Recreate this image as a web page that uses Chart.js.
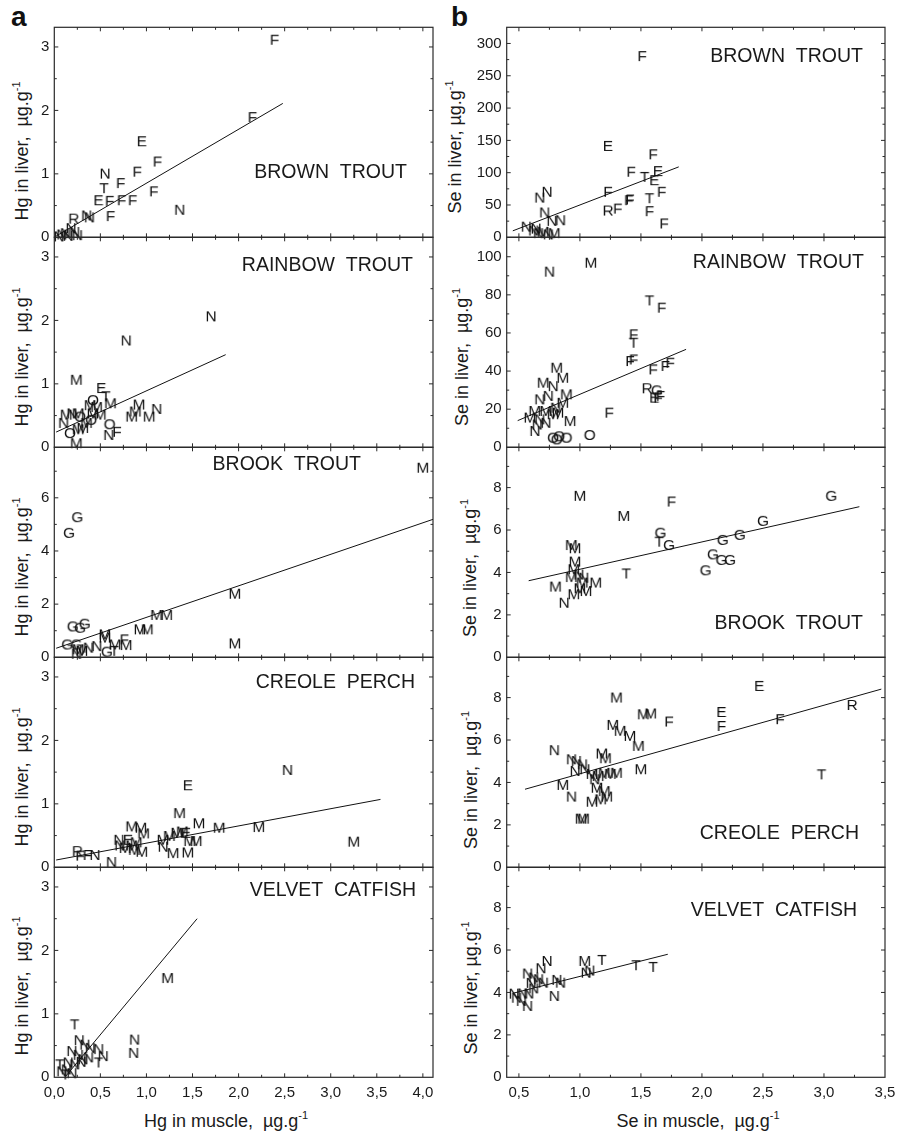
<!DOCTYPE html>
<html>
<head>
<meta charset="utf-8">
<script src="https://cdn.jsdelivr.net/npm/chart.js@4.4.1/dist/chart.umd.min.js"></script>
<style>
  html,body{margin:0;padding:0;background:#fff;}
  body{width:902px;height:1136px;position:relative;overflow:hidden;font-family:"Liberation Sans",Arial,Helvetica,sans-serif;color:#1a1a1a;}
  canvas{position:absolute;}
  .t{position:absolute;white-space:nowrap;line-height:1;}
  .yt{font-size:18px;transform:translate(-50%,-50%) rotate(-90deg);}
  .xt{font-size:18px;transform:translate(-50%,-50%);}
  .sup{font-size:11px;position:relative;top:-8px;}
  .pl{font-size:28px;font-weight:bold;color:#111;}
</style>
</head>
<body>
<div class="t pl" style="left:11px;top:3px;">a</div>
<div class="t pl" style="left:451px;top:3px;">b</div>

<div class="t yt" style="left:22px;top:151px;">Hg in liver,&nbsp; µg.g<span class="sup">-1</span></div>
<div class="t yt" style="left:22px;top:357px;">Hg in liver,&nbsp; µg.g<span class="sup">-1</span></div>
<div class="t yt" style="left:22px;top:567px;">Hg in liver,&nbsp; µg.g<span class="sup">-1</span></div>
<div class="t yt" style="left:22px;top:777px;">Hg in liver,&nbsp; µg.g<span class="sup">-1</span></div>
<div class="t yt" style="left:22px;top:986px;">Hg in liver,&nbsp; µg.g<span class="sup">-1</span></div>

<div class="t yt" style="left:455px;top:147px;">Se in liver, µg.g<span class="sup">-1</span></div>
<div class="t yt" style="left:462px;top:357px;">Se in liver,&nbsp; µg.g<span class="sup">-1</span></div>
<div class="t yt" style="left:470px;top:568px;">Se in liver,&nbsp; µg.g<span class="sup">-1</span></div>
<div class="t yt" style="left:471px;top:780px;">Se in liver,&nbsp; µg.g<span class="sup">-1</span></div>
<div class="t yt" style="left:471px;top:988px;">Se in liver, µg.g<span class="sup">-1</span></div>

<div class="t xt" style="left:226px;top:1121px;">Hg in muscle,&nbsp; µg.g<span class="sup">-1</span></div>
<div class="t xt" style="left:698px;top:1121px;">Se in muscle,&nbsp; µg.g<span class="sup">-1</span></div>

<canvas id="p1a"></canvas><canvas id="p1b"></canvas>
<canvas id="p2a"></canvas><canvas id="p2b"></canvas>
<canvas id="p3a"></canvas><canvas id="p3b"></canvas>
<canvas id="p4a"></canvas><canvas id="p4b"></canvas>
<canvas id="p5a"></canvas><canvas id="p5b"></canvas>

<script>
// ---------- tick values / labels ----------
const hgMuscleTicks = [0, 0.5, 1, 1.5, 2, 2.5, 3, 3.5, 4];
const hgMuscleLabels = ['0,0','0,5','1,0','1,5','2,0','2,5','3,0','3,5','4,0'];
const seMuscleTicks = [0.5, 1, 1.5, 2, 2.5, 3, 3.5];
const seMuscleLabels = ['0,5','1,0','1,5','2,0','2,5','3,0','3,5'];
const hgLiverTicks = [0, 1, 2, 3];
const hgLiverBrookTicks = [0, 2, 4, 6];
const seLiverBrownTicks = [0, 50, 100, 150, 200, 250, 300];
const seLiverRainbowTicks = [0, 20, 40, 60, 80, 100];
const seLiverTicks = [0, 2, 4, 6, 8];

// ---------- (a) Hg : BROWN TROUT ----------
const hgBrownLetters = ['F','F','E','F','F','N','F','T','F','E','F','F','F','N','F','N','N','R','N','N','N','N','N','N','N'];
const hgBrownMuscle  = [2.39,2.15,0.95,1.12,0.90,0.55,0.72,0.54,1.08,0.48,0.60,0.73,0.85,1.36,0.61,0.35,0.38,0.21,0.18,0.12,0.15,0.08,0.22,0.05,0.25];
const hgBrownLiver   = [3.13,1.91,1.53,1.21,1.05,1.02,0.87,0.79,0.74,0.60,0.59,0.60,0.60,0.45,0.35,0.36,0.33,0.31,0.16,0.08,0.04,0.06,0.10,0.03,0.05];
const hgBrownFitX = [0.02, 2.48];
const hgBrownFitY = [0.02, 2.11];

// ---------- (b) Se : BROWN TROUT ----------
const seBrownLetters = ['F','E','F','F','T','E','E','F','F','T','F','F','F','R','F','F','N','N','N','N','N','N','N','N','M','N','M','N'];
const seBrownMuscle  = [1.51,1.23,1.60,1.42,1.53,1.64,1.61,1.67,1.23,1.57,1.40,1.41,1.31,1.23,1.57,1.69,0.67,0.73,0.71,0.84,0.77,0.56,0.62,0.66,0.70,0.74,0.79,0.64];
const seBrownLiver   = [282,143,130,103,95,104,90,72,72,62,59,60,46,43,42,23,63,72,40,28,27,18,12,8,10,6,8,15];
const seBrownFitX = [0.45, 1.81];
const seBrownFitY = [10, 109];

// ---------- (a) Hg : RAINBOW TROUT ----------
const hgRainbowLetters = ['N','N','M','E','O','T','M','M','M','N','M','M','M','O','F','N','O','M','N','M','N','M','O','M','M','O','M','M','M','M'];
const hgRainbowMuscle  = [1.70,0.78,0.24,0.51,0.42,0.56,0.61,0.39,0.92,1.11,0.84,1.03,0.88,0.60,0.68,0.59,0.40,0.50,0.10,0.13,0.19,0.26,0.28,0.31,0.26,0.17,0.24,0.35,0.42,0.46];
const hgRainbowLiver   = [2.08,1.70,1.08,0.95,0.76,0.82,0.71,0.68,0.69,0.62,0.50,0.50,0.58,0.38,0.26,0.21,0.45,0.53,0.40,0.53,0.55,0.55,0.50,0.32,0.30,0.24,0.08,0.40,0.55,0.65];
const hgRainbowFitX = [0.02, 1.86];
const hgRainbowFitY = [0.24, 1.46];

// ---------- (b) Se : RAINBOW TROUT ----------
const seRainbowLetters = ['N','M','T','F','F','T','F','F','F','F','F','R','G','E','F','F','F','O','O','O','O','O','M','M','M','N','M','N','N','M','N','M','M','M','M','N','M','N','N','M','N'];
const seRainbowMuscle  = [0.75,1.09,1.57,1.67,1.44,1.44,1.41,1.44,1.60,1.70,1.74,1.55,1.63,1.61,1.64,1.66,1.24,1.08,0.78,0.81,0.89,0.83,0.81,0.86,0.70,0.78,0.89,0.67,0.74,0.86,0.80,0.63,0.72,0.82,0.59,0.67,0.92,0.72,0.63,0.78,0.65];
const seRainbowLiver   = [92.7,97.4,77.6,73.8,59.8,55.4,45.8,46.6,41.4,43.2,44.9,31.5,30.4,26.6,26.6,27.5,18.7,7.0,5.6,4.7,5.6,6.3,42.3,37,34.4,32.6,28.3,25.7,27.5,23.9,21.3,19.6,19.6,18.7,16.1,15.2,14.3,13.4,9.1,17.9,12.5];
const seRainbowFitX = [0.49, 1.87];
const seRainbowFitY = [14, 51.4];

// ---------- (a) Hg : BROOK TROUT ----------
const hgBrookLetters = ['M','G','G','M','M','M','M','M','G','G','G','M','F','M','M','M','M','G','G','M','M','N','N','G','T','N'];
const hgBrookMuscle  = [4.00,0.25,0.16,1.96,1.11,1.22,0.93,1.01,0.20,0.28,0.33,1.96,0.76,0.78,0.66,0.55,0.55,0.14,0.24,0.26,0.30,0.46,0.37,0.57,0.65,0.24];
const hgBrookLiver   = [7.17,5.31,4.72,2.43,1.63,1.63,1.09,1.09,1.20,1.15,1.30,0.56,0.71,0.50,0.52,0.90,0.78,0.52,0.52,0.34,0.28,0.46,0.40,0.25,0.28,0.17];
const hgBrookFitX = [0.02, 4.11];
const hgBrookFitY = [0.34, 5.19];

// ---------- (b) Se : BROOK TROUT ----------
const seBrookLetters = ['M','F','G','M','G','G','G','G','T','G','G','G','G','G','T','M','M','M','M','M','N','N','M','M','M','M','M','N','M'];
const seBrookMuscle  = [1.00,1.75,3.06,1.36,2.50,2.31,2.17,1.66,1.65,1.73,2.09,2.16,2.23,2.03,1.38,0.93,0.96,0.96,0.95,0.93,0.99,1.03,1.02,1.13,0.80,0.95,1.05,0.87,1.00];
const seBrookLiver   = [7.66,7.39,7.66,6.71,6.48,5.82,5.58,5.92,5.50,5.34,4.90,4.64,4.64,4.15,4.00,5.34,5.19,4.56,4.20,3.83,3.95,3.80,3.57,3.57,3.38,3.02,3.17,2.62,3.30];
const seBrookFitX = [0.58, 3.29];
const seBrookFitY = [3.61, 7.10];

// ---------- (a) Hg : CREOLE PERCH ----------
const hgCreoleLetters = ['N','E','M','M','M','M','M','M','M','M','N','E','M','M','M','M','M','N','M','M','M','M','E','M','M','M','M','N','N','R','F','F','N'];
const hgCreoleMuscle  = [2.53,1.45,1.36,1.57,1.79,2.22,3.25,0.84,0.94,0.97,0.70,0.80,0.89,0.77,0.84,0.95,0.87,0.71,1.18,1.25,1.33,1.39,1.43,1.47,1.54,1.29,1.45,1.18,0.62,0.25,0.28,0.36,0.44];
const hgCreoleLiver   = [1.55,1.31,0.87,0.71,0.64,0.65,0.42,0.66,0.64,0.55,0.45,0.45,0.41,0.32,0.36,0.26,0.29,0.36,0.45,0.51,0.56,0.58,0.56,0.43,0.43,0.24,0.25,0.34,0.10,0.27,0.20,0.21,0.21];
const hgCreoleFitX = [0.02, 3.54];
const hgCreoleFitY = [0.115, 1.07];

// ---------- (b) Se : CREOLE PERCH ----------
const seCreoleLetters = ['E','M','M','M','F','E','F','F','R','T','M','M','M','M','M','N','M','M','N','N','N','N','N','M','M','M','M','M','N','M','M','M','M','M','M','N','M','M'];
const seCreoleMuscle  = [2.47,1.30,1.52,1.58,1.73,2.16,2.16,2.64,3.23,2.98,1.27,1.33,1.41,1.48,1.50,0.79,1.18,1.21,0.93,0.97,1.02,0.96,1.04,1.10,1.15,1.20,1.25,1.30,1.12,1.14,1.20,1.22,1.10,1.17,0.86,0.93,1.01,1.03];
const seCreoleLiver   = [8.6,8.05,7.26,7.30,6.92,7.37,6.71,7.03,7.70,4.43,6.76,6.48,6.24,5.77,4.67,5.57,5.41,5.19,5.14,5.06,4.90,4.59,4.67,4.45,4.35,4.50,4.45,4.50,4.20,3.80,3.64,3.38,3.14,3.25,3.93,3.38,2.34,2.34];
const seCreoleFitX = [0.55, 3.47];
const seCreoleFitY = [3.68, 8.40];

// ---------- (a) Hg : VELVET CATFISH ----------
const hgVelvetLetters = ['M','T','N','N','N','N','N','N','N','T','N','N','N','N','N','N','T','N','N','N','T','N'];
const hgVelvetMuscle  = [1.23,0.22,0.87,0.86,0.27,0.33,0.39,0.48,0.53,0.48,0.19,0.26,0.31,0.37,0.15,0.22,0.06,0.08,0.13,0.19,0.12,0.29];
const hgVelvetLiver   = [1.58,0.85,0.61,0.40,0.60,0.53,0.48,0.46,0.35,0.25,0.43,0.37,0.30,0.33,0.25,0.22,0.22,0.11,0.14,0.08,0.06,0.26];
const hgVelvetFitX = [0.12, 1.55];
const hgVelvetFitY = [0.01, 2.50];

// ---------- (b) Se : VELVET CATFISH ----------
const seVelvetLetters = ['M','T','T','T','N','N','N','N','N','N','N','N','N','N','N','N','N','N','N','N','N','N','N'];
const seVelvetMuscle  = [1.04,1.18,1.46,1.60,1.05,1.08,0.73,0.68,0.57,0.62,0.66,0.70,0.81,0.84,0.79,0.46,0.48,0.52,0.57,0.58,0.62,0.53,0.60];
const seVelvetLiver   = [5.53,5.58,5.33,5.25,4.98,5.08,5.53,5.19,4.94,4.75,4.67,4.51,4.64,4.51,3.88,3.99,3.80,3.65,3.41,4.00,4.24,4.00,4.50];
const seVelvetFitX = [0.45, 1.72];
const seVelvetFitY = [3.96, 5.80];

// ---------- helpers ----------
const FONT = '"Liberation Sans", Arial, Helvetica, sans-serif';
const imgCache = {};
function letterImage(ch) {
  if (imgCache[ch]) return imgCache[ch];
  const c = document.createElement('canvas');
  c.width = 18; c.height = 18;
  const g = c.getContext('2d');
  g.font = '15.5px ' + FONT;
  g.fillStyle = '#111';
  g.textAlign = 'center';
  g.textBaseline = 'alphabetic';
  g.fillText(ch, 9, 9 + 5.6);
  imgCache[ch] = c;
  return c;
}
function midpoints(ticks, max) {
  const step = ticks[1] - ticks[0];
  const out = [];
  ticks.forEach(t => { const m = t + step / 2; if (m < max - step * 0.05) out.push(m); });
  return out;
}

const frame = {
  id: 'frame',
  afterDatasetsDraw(chart, args, o) {
    const { ctx, chartArea: a, scales } = chart;
    ctx.save();
    ctx.strokeStyle = '#2a2a2a';
    ctx.lineWidth = 1.2;
    ctx.strokeRect(a.left, a.top, a.right - a.left, a.bottom - a.top);
    ctx.lineWidth = 1;
    ctx.beginPath();
    const xs = scales.x, ys = scales.y;
    const tick = (v, len, horiz) => {
      if (horiz) {
        const p = xs.getPixelForValue(v);
        if (p < a.left + 0.5 || p > a.right - 0.5) return;
        ctx.moveTo(p, a.bottom); ctx.lineTo(p, a.bottom - len);
        ctx.moveTo(p, a.top); ctx.lineTo(p, a.top + len);
      } else {
        const p = ys.getPixelForValue(v);
        if (p < a.top + 0.5 || p > a.bottom - 0.5) return;
        ctx.moveTo(a.left, p); ctx.lineTo(a.left + len, p);
        ctx.moveTo(a.right, p); ctx.lineTo(a.right - len, p);
      }
    };
    o.xMajor.forEach(v => tick(v, 4, true));
    o.xMinor.forEach(v => tick(v, 2.5, true));
    o.yMajor.forEach(v => tick(v, 4, false));
    o.yMinor.forEach(v => tick(v, 2.5, false));
    ctx.stroke();
    // panel name
    ctx.font = '19.5px ' + FONT;
    ctx.fillStyle = '#1a1a1a';
    ctx.textAlign = 'right';
    ctx.textBaseline = 'middle';
    ctx.fillText(o.name, a.right - o.dx, a.top + o.dy);
    ctx.restore();
  }
};

const panels = [
  { id:'p1a', col:'L', top:17,  yMax:3.31, yTicks:hgLiverTicks,        L:hgBrownLetters,   X:hgBrownMuscle,   Y:hgBrownLiver,   FX:hgBrownFitX,   FY:hgBrownFitY,   name:'BROWN  TROUT',   dx:26, dy:145 },
  { id:'p1b', col:'R', top:17,  yMax:325,  yTicks:seLiverBrownTicks,   L:seBrownLetters,   X:seBrownMuscle,   Y:seBrownLiver,   FX:seBrownFitX,   FY:seBrownFitY,   name:'BROWN  TROUT',   dx:22, dy:29 },
  { id:'p2a', col:'L', top:227, yMax:3.31, yTicks:hgLiverTicks,        L:hgRainbowLetters, X:hgRainbowMuscle, Y:hgRainbowLiver, FX:hgRainbowFitX, FY:hgRainbowFitY, name:'RAINBOW  TROUT', dx:20, dy:28 },
  { id:'p2b', col:'R', top:227, yMax:110.2,yTicks:seLiverRainbowTicks, L:seRainbowLetters, X:seRainbowMuscle, Y:seRainbowLiver, FX:seRainbowFitX, FY:seRainbowFitY, name:'RAINBOW  TROUT', dx:21, dy:25 },
  { id:'p3a', col:'L', top:437, yMax:7.9,  yTicks:hgLiverBrookTicks,   L:hgBrookLetters,   X:hgBrookMuscle,   Y:hgBrookLiver,   FX:hgBrookFitX,   FY:hgBrookFitY,   name:'BROOK  TROUT',   dx:72, dy:17 },
  { id:'p3b', col:'R', top:437, yMax:9.9,  yTicks:seLiverTicks,        L:seBrookLetters,   X:seBrookMuscle,   Y:seBrookLiver,   FX:seBrookFitX,   FY:seBrookFitY,   name:'BROOK  TROUT',   dx:22, dy:176 },
  { id:'p4a', col:'L', top:647, yMax:3.31, yTicks:hgLiverTicks,        L:hgCreoleLetters,  X:hgCreoleMuscle,  Y:hgCreoleLiver,  FX:hgCreoleFitX,  FY:hgCreoleFitY,  name:'CREOLE  PERCH',  dx:18, dy:25 },
  { id:'p4b', col:'R', top:647, yMax:9.9,  yTicks:seLiverTicks,        L:seCreoleLetters,  X:seCreoleMuscle,  Y:seCreoleLiver,  FX:seCreoleFitX,  FY:seCreoleFitY,  name:'CREOLE  PERCH',  dx:26, dy:176 },
  { id:'p5a', col:'L', top:857, yMax:3.31, yTicks:hgLiverTicks,        L:hgVelvetLetters,  X:hgVelvetMuscle,  Y:hgVelvetLiver,  FX:hgVelvetFitX,  FY:hgVelvetFitY,  name:'VELVET  CATFISH',dx:17, dy:23, bottom:true },
  { id:'p5b', col:'R', top:857, yMax:9.9,  yTicks:seLiverTicks,        L:seVelvetLetters,  X:seVelvetMuscle,  Y:seVelvetLiver,  FX:seVelvetFitX,  FY:seVelvetFitY,  name:'VELVET  CATFISH',dx:28, dy:43, bottom:true }
];

Chart.defaults.font.family = FONT;
Chart.defaults.color = '#1a1a1a';

panels.forEach(p => {
  const left = p.col === 'L';
  const cw = left ? 440 : 462;
  const yW = left ? 54.3 : 66.7;
  const padR = left ? 6.7 : 17;
  const xH = p.bottom ? 30 : 0;
  const padTop = 10.3;
  const plotH = 210;
  const ch = Math.ceil(padTop + plotH + xH + (p.bottom ? 2 : 10));
  const padBottom = ch - padTop - plotH - xH;
  const cv = document.getElementById(p.id);
  cv.width = cw; cv.height = ch;
  cv.style.width = cw + 'px'; cv.style.height = ch + 'px';
  cv.style.left = (left ? 0 : 440) + 'px';
  cv.style.top = p.top + 'px';

  const xTicks = left ? hgMuscleTicks : seMuscleTicks;
  const xLabels = left ? hgMuscleLabels : seMuscleLabels;
  const xMin = left ? 0 : 0.4, xMax = left ? 4.11 : 3.5;
  const xMinor = midpoints(xTicks, xMax);

  new Chart(cv, {
    data: {
      datasets: [
        {
          type: 'scatter',
          data: p.X.map((x, i) => ({ x: x, y: p.Y[i] })),
          pointStyle: ctx => letterImage(p.L[ctx.dataIndex]),
          pointRadius: 6,
          clip: false
        },
        {
          type: 'line',
          data: p.FX.map((x, i) => ({ x: x, y: p.FY[i] })),
          borderColor: '#111',
          borderWidth: 1,
          pointRadius: 0,
          fill: false,
          tension: 0,
          clip: false
        }
      ]
    },
    options: {
      responsive: false,
      animation: false,
      events: [],
      layout: { padding: { left: 0, right: padR, top: padTop, bottom: padBottom } },
      plugins: {
        legend: { display: false },
        tooltip: { enabled: false },
        frame: { xMajor: xTicks, xMinor: xMinor, yMajor: p.yTicks, yMinor: midpoints(p.yTicks, p.yMax), name: p.name, dx: p.dx, dy: p.dy }
      },
      scales: {
        x: {
          type: 'linear', min: xMin, max: xMax,
          grid: { display: false, drawTicks: false },
          border: { display: false },
          ticks: {
            display: !!p.bottom, padding: 7, font: { size: 15 }, color: '#1a1a1a',
            callback: (v, i) => xLabels[i]
          },
          afterBuildTicks: s => { s.ticks = xTicks.map(v => ({ value: v })); },
          afterFit: s => { s.height = xH; s.paddingLeft = 0; s.paddingRight = 0; }
        },
        y: {
          type: 'linear', min: 0, max: p.yMax,
          grid: { display: false, drawTicks: false },
          border: { display: false },
          ticks: {
            padding: 5, font: { size: 15 }, color: '#1a1a1a',
            callback: (v, i) => String(p.yTicks[i])
          },
          afterBuildTicks: s => { s.ticks = p.yTicks.map(v => ({ value: v })); },
          afterFit: s => { s.width = yW; s.paddingTop = 0; s.paddingBottom = 0; }
        }
      }
    },
    plugins: [frame]
  });
});
</script>
</body>
</html>
